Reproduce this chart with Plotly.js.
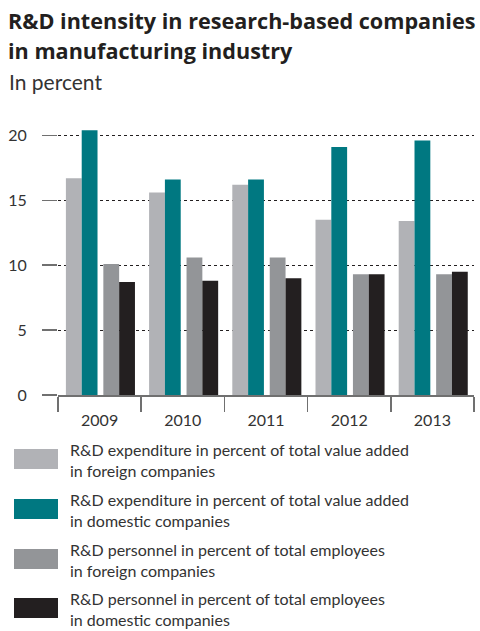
<!DOCTYPE html>
<html>
<head>
<meta charset="utf-8">
<script src="https://cdn.plot.ly/plotly-3.0.1.min.js"></script>
<style>html,body{margin:0;padding:0;background:#fff;}#chart{width:480px;height:631px;}</style>
</head>
<body>
<div id="chart"></div>
<script>
const years = ['2009', '2010', '2011', '2012', '2013'];
const expForeign = [16.7, 15.6, 16.2, 13.5, 13.4];
const expDomestic = [20.4, 16.6, 16.6, 19.1, 19.6];
const persForeign = [10.1, 10.6, 10.6, 9.3, 9.3];
const persDomestic = [8.7, 8.8, 9.0, 9.3, 9.5];
const seriesNames = [
  'R&D expenditure in percent of total value added<br>in foreign companies',
  'R&D expenditure in percent of total value added<br>in domestic companies',
  'R&D personnel in percent of total employees<br>in foreign companies',
  'R&D personnel in percent of total employees<br>in domestic companies'
];
const seriesColors = ['#b1b2b6', '#007881', '#939598', '#231f20'];
const yTicks = [0, 5, 10, 15, 20];
const titleLines = ['R&D intensity in research-based companies', 'in manufacturing industry'];
const subtitle = 'In percent';

const W = 480, H = 631;
const mL = 58, mR = 6, mT = 127, mB = 236;
const plotW = W - mL - mR, plotH = H - mT - mB;
const px2x = p => (p - mL) / plotW;
const px2y = p => (H - mB - p) / plotH;

const allValues = [expForeign, expDomestic, persForeign, persDomestic];
const offsets = [-0.405, -0.215, 0.045, 0.235];
const barW = 0.19;
const traces = allValues.map((vals, i) => ({
  type: 'bar',
  x: years,
  y: vals,
  name: seriesNames[i],
  marker: {color: seriesColors[i], line: {width: 0}},
  width: barW,
  offset: offsets[i],
  hoverinfo: 'x+y'
}));

const textFont = 'Lato, "Open Sans", sans-serif';
const shapes = [];
const annotations = [];
const legendTop = [449, 499, 549, 598];
seriesNames.forEach((n, i) => {
  shapes.push({
    type: 'rect', xref: 'paper', yref: 'paper',
    x0: px2x(14), x1: px2x(58),
    y0: px2y(legendTop[i] + 20), y1: px2y(legendTop[i]),
    fillcolor: seriesColors[i], line: {width: 0}
  });
  annotations.push({
    xref: 'paper', yref: 'paper',
    x: px2x(68), y: px2y(legendTop[i] + 11),
    xanchor: 'left', yanchor: 'middle', align: 'left',
    showarrow: false, text: n,
    font: {family: textFont, size: 16, color: '#333333'}
  });
});
const titleY = [20, 50];
titleLines.forEach((t, i) => {
  annotations.push({
    xref: 'paper', yref: 'paper', x: px2x(6), y: px2y(titleY[i]),
    xanchor: 'left', yanchor: 'middle', showarrow: false,
    text: '<b>' + t + '</b>',
    font: {family: '"Open Sans", sans-serif', size: 21.6, color: '#231f20'}
  });
});
annotations.push({
  xref: 'paper', yref: 'paper', x: px2x(7), y: px2y(81),
  xanchor: 'left', yanchor: 'middle', showarrow: false,
  text: subtitle,
  font: {family: textFont, size: 21, color: '#333333'}
});

const layout = {
  width: W, height: H,
  margin: {l: mL, r: mR, t: mT, b: mB, pad: 0},
  paper_bgcolor: '#fff', plot_bgcolor: '#fff',
  showlegend: false,
  barmode: 'overlay',
  xaxis: {
    type: 'category',
    tickson: 'boundaries',
    ticks: 'outside', ticklen: 15, tickwidth: 1.5, tickcolor: '#707070',
    ticklabelstandoff: 10,
    showline: true, linecolor: '#707070', linewidth: 1.5,
    showgrid: false, zeroline: false,
    tickfont: {family: textFont, size: 16, color: '#333333'},
    range: [-0.5, 4.5], fixedrange: true
  },
  yaxis: {
    range: [0, plotH / 12.98],
    tickmode: 'array', tickvals: yTicks, ticktext: yTicks.map(String),
    ticks: 'outside', ticklen: 15, tickwidth: 1.5, tickcolor: '#707070',
    ticklabelstandoff: 12,
    showgrid: true, gridcolor: '#231f20', gridwidth: 1, griddash: '3px,3px',
    zeroline: false, showline: false,
    tickfont: {family: textFont, size: 16, color: '#333333'},
    fixedrange: true
  },
  shapes: shapes,
  annotations: annotations
};

Plotly.newPlot('chart', traces, layout, {displayModeBar: false, staticPlot: true});
</script>
</body>
</html>
